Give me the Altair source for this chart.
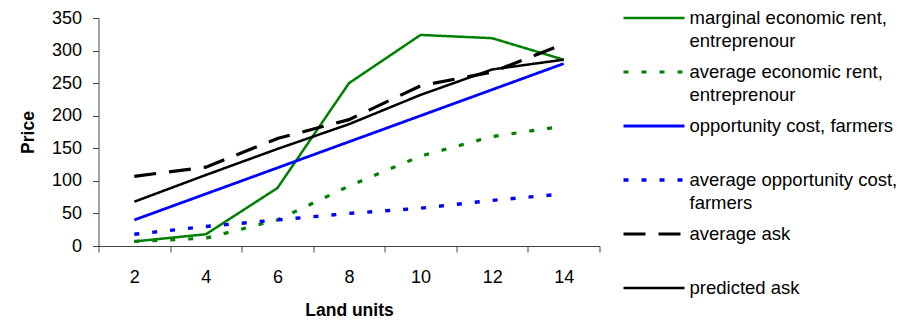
import altair as alt
import pandas as pd

# Land units on the category axis
land_units = [2, 4, 6, 8, 10, 12, 14]

# Price series
marginal_rent = [7, 18, 89, 250, 324, 319, 286]
average_rent = [7, 12, 40, 92, 138, 168, 184]
opportunity_cost = [40, 80, 120, 160, 200, 240, 280]
average_opportunity_cost = [18, 30, 40, 50, 58, 70, 80]
average_ask = [107, 121, 165, 194, 246, 267, 310]
predicted_ask = [68, 109, 149, 187, 232, 271, 286]

series_names = [
    "marginal economic rent, entreprenour",
    "average economic rent, entreprenour",
    "opportunity cost, farmers",
    "average opportunity cost, farmers",
    "average ask",
    "predicted ask",
]
series_values = [
    marginal_rent,
    average_rent,
    opportunity_cost,
    average_opportunity_cost,
    average_ask,
    predicted_ask,
]
legend_line1 = [
    "marginal economic rent,",
    "average economic rent,",
    "opportunity cost, farmers",
    "average opportunity cost,",
    "average ask",
    "predicted ask",
]
legend_line2 = ["entreprenour", "entreprenour", "", "farmers", "", ""]

y_ticks = [0, 50, 100, 150, 200, 250, 300, 350]

# Styles per series
colors = ["#008000", "#008000", "#0000ff", "#0000ff", "#000000", "#000000"]
plot_dashes = [[1, 0], [5, 13], [1, 0], [5, 13], [22, 13], [1, 0]]
legend_dashes = [[1, 0], [5, 8], [1, 0], [5, 8], [22, 13], [1, 0]]
widths = [2.5, 3.2, 2.8, 3.4, 3.2, 2.5]

FONT = "Liberation Sans"
AXIS_COLOR = "#444444"

rows = []
for name, values in zip(series_names, series_values):
    for x, v in zip(land_units, values):
        rows.append({"series": name, "land": x, "price": v})
df = pd.DataFrame(rows)

legend_df = pd.DataFrame(
    {
        "series": series_names,
        "slot": list(range(len(series_names))),
        "line1": legend_line1,
        "line2": legend_line2,
    }
)

color_scale = alt.Scale(domain=series_names, range=colors)
width_scale = alt.Scale(type="ordinal", domain=series_names, range=widths)

lines = (
    alt.Chart(df)
    .mark_line(strokeCap="butt", strokeJoin="miter")
    .encode(
        x=alt.X(
            "land:O",
            title="Land units",
            scale=alt.Scale(type="band", paddingInner=0, paddingOuter=0),
            axis=alt.Axis(
                labelAngle=0,
                tickBand="extent",
                tickSize=6,
                labelPadding=16,
                titlePadding=15,
                labelFontSize=18,
                titleFontSize=17.5,
            ),
        ),
        y=alt.Y(
            "price:Q",
            title="Price",
            scale=alt.Scale(domain=[0, 350], nice=False),
            axis=alt.Axis(
                values=y_ticks,
                grid=False,
                tickSize=6,
                labelPadding=11,
                titlePadding=14,
                labelFontSize=18,
                titleFontSize=17.5,
            ),
        ),
        color=alt.Color("series:N", scale=color_scale, legend=None),
        strokeDash=alt.StrokeDash(
            "series:N", scale=alt.Scale(domain=series_names, range=plot_dashes), legend=None
        ),
        strokeWidth=alt.StrokeWidth("series:N", scale=width_scale, legend=None),
        detail="series:N",
    )
    .properties(width=501, height=228)
)

legend_y = alt.Y(
    "slot:Q",
    axis=None,
    scale=alt.Scale(domain=[0, 5], reverse=True, nice=False, zero=False),
)

swatches = alt.Chart(legend_df).mark_rule(strokeCap="butt").encode(
    x=alt.value(0),
    x2=alt.value(61),
    y=legend_y,
    color=alt.Color("series:N", scale=color_scale, legend=None),
    strokeDash=alt.StrokeDash(
        "series:N", scale=alt.Scale(domain=series_names, range=legend_dashes), legend=None
    ),
    strokeWidth=alt.StrokeWidth("series:N", scale=width_scale, legend=None),
)

text_first = alt.Chart(legend_df).mark_text(
    align="left", baseline="middle", font=FONT, fontSize=18.5, color="#000000"
).encode(x=alt.value(66), y=legend_y, text="line1:N")

text_second = alt.Chart(legend_df).mark_text(
    align="left", baseline="middle", font=FONT, fontSize=18.5, color="#000000", dy=23
).encode(x=alt.value(66), y=legend_y, text="line2:N")

legend = alt.layer(swatches, text_first, text_second).properties(width=270, height=270)

chart = (
    alt.hconcat(lines, legend, spacing=24, bounds="flush")
    .properties(padding={"left": 18.5, "top": 9, "right": 5, "bottom": 0}, background="white")
    .configure_view(strokeWidth=0)
    .configure_axis(
        labelFont=FONT,
        titleFont=FONT,
        labelColor="#000000",
        titleColor="#000000",
        titleFontWeight="bold",
        domainColor=AXIS_COLOR,
        tickColor=AXIS_COLOR,
        domainWidth=1,
        tickWidth=1,
    )
)

chart.save("out.html", embed_options={"renderer": "svg", "actions": False})
